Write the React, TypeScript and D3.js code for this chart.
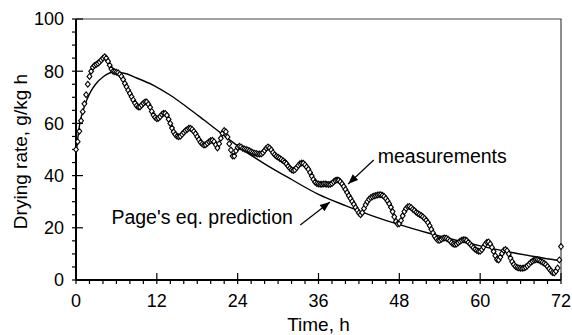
import React, { useEffect, useRef } from 'react';
import * as d3 from 'd3';

// measured drying rate, one reading every 15 min from t = 0 to 72 h
const sampleStep = 0.25;
const measured = [
  50, 53, 57, 61, 64.5, 67.5, 71, 75, 78, 80, 81.5, 82.2, 82.6, 83, 83.5, 84.3,
  85, 85.5, 85, 83.8, 82.3, 80.8, 80, 79.8, 79.6, 79.4, 78.8, 78, 76.8, 75.3, 74, 72.7,
  71.5, 70.2, 69, 67.8, 66.8, 66.3, 66.3, 67, 67.7, 68.2, 68.2, 67.3, 66.2, 64.6, 63.2, 62.3,
  61.8, 62, 62.6, 63.4, 63.9, 63.8, 63.1, 61.6, 60, 58.2, 56.7, 55.7, 55.1, 54.9, 55.1, 55.8,
  56.5, 57.2, 57.7, 58.1, 58.1, 57.7, 56.9, 56, 54.9, 53.8, 52.8, 52.1, 51.7, 51.8, 52.4, 53,
  53.4, 53.5, 53, 51.8, 50.6, 52.2, 54.3, 56.2, 57.3, 56.8, 54.8, 52.2, 49.8, 47.5, 47.5, 49.5,
  50.8, 51.2, 51, 50.5, 50.2, 50, 49.8, 49.5, 49.1, 48.8, 48.6, 48.5, 48.3, 48.3, 48.3, 48.8,
  49.6, 50.5, 51, 50.6, 49.8, 48.8, 48, 47.4, 47, 46.6, 46.2, 45.7, 45.2, 44.5, 43.6, 42.8,
  42.2, 42, 42.2, 43, 43.9, 44.5, 44.8, 44.7, 44.1, 43.3, 42.4, 41.2, 39.8, 38.5, 37.5, 37,
  36.8, 36.7, 36.7, 36.8, 36.8, 36.7, 36.6, 36.7, 37, 37.6, 38.1, 38.3, 38.2, 37.6, 36.8, 35.8,
  34.7, 33.5, 32.3, 31.2, 30.1, 29, 27.8, 26.7, 25.7, 25, 25.8, 27.4, 28.8, 30, 30.9, 31.5,
  31.9, 32.2, 32.4, 32.6, 32.7, 32.7, 32.5, 32, 31.2, 30.3, 29.2, 27.9, 26.2, 24.2, 22.5, 21.5,
  21.6, 22.8, 24.6, 26.2, 27.4, 28.1, 28.2, 27.8, 27.1, 26.6, 26, 25.5, 25.1, 24.7, 24.2, 23.6,
  22.9, 22, 20.8, 19.4, 18, 16.8, 15.8, 15.2, 15.2, 15.6, 16, 16.1, 16, 15.6, 15, 14.3,
  13.8, 13.6, 13.8, 14.3, 14.8, 15.2, 15.4, 15.4, 15.1, 14.5, 13.8, 13.1, 12.4, 11.8, 11.3, 11,
  11, 11.6, 12.6, 13.7, 14.5, 14.6, 13.8, 12.5, 10.9, 9.3, 7.9, 7.7, 8.8, 10.2, 11.3, 11.7,
  11.2, 10, 8.4, 7, 5.9, 5.2, 4.8, 4.6, 4.5, 4.5, 4.6, 4.9, 5.4, 6, 6.7, 7.2,
  7.6, 7.8, 7.8, 7.6, 7.2, 6.8, 6.4, 5.9, 5.2, 4.3, 3.5, 2.9, 2.7, 3.4, 4.6, 7.7,
  12.8,
];

// Page's equation prediction
const predTime = [0, 0.3, 0.6, 1, 1.6, 2.2, 3, 4, 5.5, 7, 9, 11.5, 14, 16.5, 19, 22, 25, 28, 32, 36, 40, 44, 48, 52, 56, 60, 64, 68, 72];
const predRate = [48, 55, 60.5, 64.5, 69, 72.3, 75.3, 77.8, 79.6, 79.3, 77.4, 74.6, 70.8, 66.2, 61.3, 55.3, 49.5, 44.5, 38.5, 32.8, 28.5, 24.6, 21.2, 18.2, 15.5, 13.1, 10.9, 9, 7.3];

const xTicks = [0, 12, 24, 36, 48, 60, 72];
const yTicks = [0, 20, 40, 60, 80, 100];

const font = '"Liberation Sans", Arial, sans-serif';

const App = () => {
  const ref = useRef<SVGSVGElement>(null);

  useEffect(() => {
    if (!ref.current) return;
    const margin = { top: 19, right: 11, bottom: 55, left: 76 },
      width = 572 - margin.left - margin.right,
      height = 335 - margin.top - margin.bottom;

    const root = d3.select(ref.current);
    root.selectAll('*').remove();

    root.append('defs').append('marker')
      .attr('id', 'arrow')
      .attr('markerUnits', 'userSpaceOnUse')
      .attr('viewBox', '0 0 10 8')
      .attr('refX', 10).attr('refY', 4)
      .attr('markerWidth', 11).attr('markerHeight', 8)
      .attr('orient', 'auto')
      .append('path').attr('d', 'M0,0L10,4L0,8Z').attr('fill', '#000');

    const svg = root.append('g').attr('transform', `translate(${margin.left},${margin.top})`);

    const x = d3.scaleLinear().domain([0, 72]).range([0, width]);
    const y = d3.scaleLinear().domain([0, 100]).range([height, 0]);

    // top & right frame
    svg.append('path')
      .attr('d', `M0,0H${width}V${height}`)
      .attr('fill', 'none').attr('stroke', '#444').attr('stroke-width', 1.2);

    // x axis ticks
    const xMinor = d3.range(0, 73, 2).filter(d => d % 12 !== 0);
    svg.selectAll('.xminor').data(xMinor).enter().append('line')
      .attr('x1', d => x(d)).attr('x2', d => x(d))
      .attr('y1', height).attr('y2', height + 4)
      .attr('stroke', '#000').attr('stroke-width', 1.2);
    svg.selectAll('.xmajor').data(xTicks).enter().append('line')
      .attr('x1', d => x(d)).attr('x2', d => x(d))
      .attr('y1', height - 7).attr('y2', height + 4)
      .attr('stroke', '#000').attr('stroke-width', 1.2);
    svg.selectAll('.xlab').data(xTicks).enter().append('text')
      .attr('x', d => x(d)).attr('y', height + 27)
      .attr('text-anchor', 'middle')
      .style('font-family', font).style('font-size', '18px')
      .text(d => d);

    // y axis ticks
    const yMinor = d3.range(0, 101, 5).filter(d => d % 20 !== 0);
    svg.selectAll('.yminor').data(yMinor).enter().append('line')
      .attr('x1', -4).attr('x2', 0)
      .attr('y1', d => y(d)).attr('y2', d => y(d))
      .attr('stroke', '#000').attr('stroke-width', 1.2);
    svg.selectAll('.ymajor').data(yTicks).enter().append('line')
      .attr('x1', -4).attr('x2', 7)
      .attr('y1', d => y(d)).attr('y2', d => y(d))
      .attr('stroke', '#000').attr('stroke-width', 1.2);
    svg.selectAll('.ylab').data(yTicks).enter().append('text')
      .attr('x', -12).attr('y', d => y(d)).attr('dy', '0.36em')
      .attr('text-anchor', 'end')
      .style('font-family', font).style('font-size', '18px')
      .text(d => d);

    // axis lines
    svg.append('path')
      .attr('d', `M0,0V${height}H${width}`)
      .attr('fill', 'none').attr('stroke', '#000').attr('stroke-width', 2);

    // prediction curve
    const line = d3.line<number>()
      .x((d, i) => x(predTime[i]))
      .y(d => y(d))
      .curve(d3.curveMonotoneX);
    svg.append('path')
      .attr('d', line(predRate))
      .attr('fill', 'none').attr('stroke', '#000').attr('stroke-width', 1.4);

    // measurements as open diamonds
    svg.selectAll('.pt').data(measured).enter().append('path')
      .attr('transform', (d, i) => `translate(${x(i * sampleStep)},${y(d)})`)
      .attr('d', 'M0,-2.9L2.4,0L0,2.9L-2.4,0Z')
      .attr('fill', '#fff').attr('stroke', '#000').attr('stroke-width', 1.1);

    // annotations
    svg.append('line')
      .attr('x1', x(44.2)).attr('y1', y(46))
      .attr('x2', x(40.4)).attr('y2', y(36.8))
      .attr('stroke', '#000').attr('stroke-width', 1.2)
      .attr('marker-end', 'url(#arrow)');
    svg.append('text')
      .attr('x', x(44.8)).attr('y', y(44.8))
      .style('font-family', font).style('font-size', '19.5px')
      .text('measurements');

    svg.append('line')
      .attr('x1', x(33.3)).attr('y1', y(21.1))
      .attr('x2', x(37.7)).attr('y2', y(29.9))
      .attr('stroke', '#000').attr('stroke-width', 1.2)
      .attr('marker-end', 'url(#arrow)');
    svg.append('text')
      .attr('x', x(32.2)).attr('y', y(21.5))
      .attr('text-anchor', 'end')
      .style('font-family', font).style('font-size', '19.5px')
      .text("Page's eq. prediction");

    // axis titles
    svg.append('text')
      .attr('x', width / 2).attr('y', height + 51)
      .attr('text-anchor', 'middle')
      .style('font-family', font).style('font-size', '19px')
      .text('Time, h');
    svg.append('text')
      .attr('transform', `translate(${27 - margin.left},${151.5 - margin.top}) rotate(-90)`)
      .attr('text-anchor', 'middle')
      .style('font-family', font).style('font-size', '19px')
      .text('Drying rate, g/kg h');
  }, []);

  return <svg ref={ref} width={572} height={335} style={{ position: 'absolute', left: 0, top: 0 }} />;
};

export default App;
